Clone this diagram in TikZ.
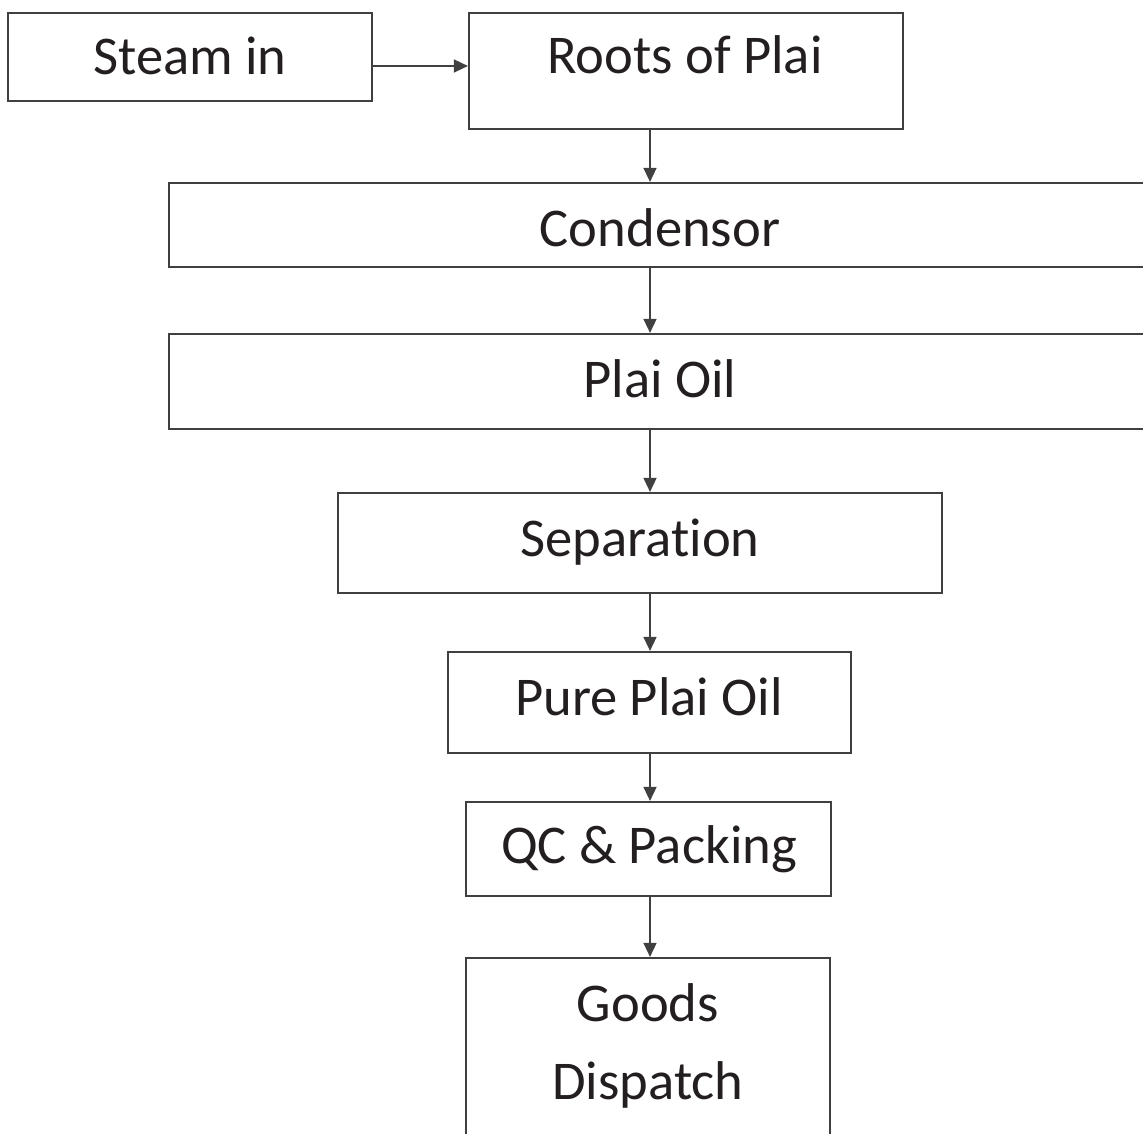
\documentclass[tikz,border=0pt]{standalone}
\usepackage{fontspec}
\setmainfont[Ligatures=NoCommon]{Carlito}
\usetikzlibrary{arrows.meta}
\definecolor{linegray}{HTML}{404040}
\definecolor{textgray}{HTML}{231F20}

\begin{document}
\begin{tikzpicture}[x=0.5pt,y=-0.5pt,
    box/.style={draw=linegray,line width=1.1pt,inner sep=0pt},
    lbl/.style={anchor=base,inner sep=0pt,text=textgray,font=\fontsize{27.3}{32}\selectfont},
    flow/.style={draw=linegray,line width=0.8pt,-{Triangle[length=7pt,width=6.5pt]}}]
    \useasboundingbox (0,0) rectangle (1143,1133);
    \clip (0,0) rectangle (1143,1133);

    % Boxes
    \node[box,minimum width=182pt,minimum height=44pt] (steam) at (190,57) {};
    \node[box,minimum width=217pt,minimum height=58pt] (roots) at (686,71) {};
    \node[box,minimum width=497pt,minimum height=42pt] (cond) at (666,225) {};
    \node[box,minimum width=497pt,minimum height=47.5pt] (oil) at (666,381.5) {};
    \node[box,minimum width=302pt,minimum height=50pt] (sep) at (640,543) {};
    \node[box,minimum width=201.5pt,minimum height=50.5pt] (pure) at (649.5,702.5) {};
    \node[box,minimum width=182.5pt,minimum height=47pt] (qc) at (648.5,849) {};
    \node[box,minimum width=182pt,minimum height=96pt] (goods) at (648,1054) {};

    % Labels
    \node[lbl] (steamtxt) at (190,75) {Steam in};
    \node[lbl] (rootstxt) at (685,74) {Roots of Plai};
    \node[lbl] (condtxt) at (660,247) {Condensor};
    \node[lbl] (oiltxt) at (660,397) {Plai Oil};
    \node[lbl] (septxt) at (640,556) {Separation};
    \node[lbl] (puretxt) at (649,715) {Pure Plai Oil};
    \node[lbl] (qctxt) at (649,863) {QC \& Packing};
    \node[lbl] (goodstxt) at (648,1021) {Goods};
    \node[lbl] (dispatchtxt) at (648,1099) {Dispatch};

    % Connectors
    \coordinate (inlevel) at (0,66);
    \coordinate (spine) at (650,0);
    \draw[flow] (steam.east |- inlevel) -- (roots.west |- inlevel);
    \draw[flow] (roots.south -| spine) -- (cond.north -| spine);
    \draw[flow] (cond.south -| spine) -- (oil.north -| spine);
    \draw[flow] (oil.south -| spine) -- (sep.north -| spine);
    \draw[flow] (sep.south -| spine) -- (pure.north -| spine);
    \draw[flow] (pure.south -| spine) -- (qc.north -| spine);
    \draw[flow] (qc.south -| spine) -- (goods.north -| spine);
\end{tikzpicture}
\end{document}
